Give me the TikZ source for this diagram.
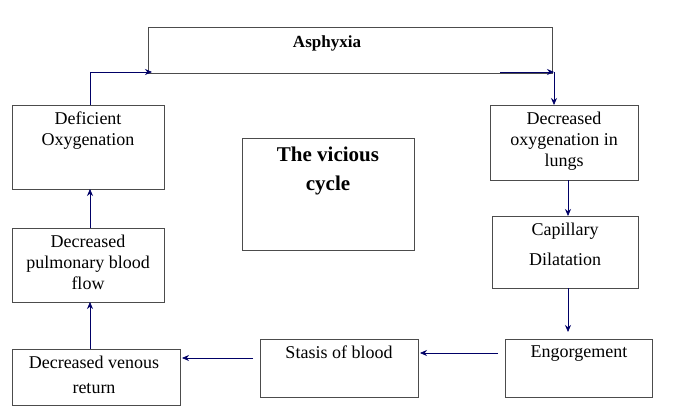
\documentclass[tikz,border=0pt]{standalone}
\usepackage{fontspec}
\setmainfont{Liberation Serif}
\usetikzlibrary{arrows.meta}
\begin{document}
\begin{tikzpicture}[x=1pt,y=-1pt,
  box/.style={draw=black!70,line width=0.6pt},
  txt/.style={font=\fontsize{18}{21}\selectfont,align=center,anchor=north,inner sep=0pt},
  arr/.style={draw=blue!40!black,line width=0.7pt,-{Stealth[length=7pt,width=6pt]}},
  ln/.style={draw=blue!40!black,line width=0.7pt}]
\useasboundingbox (0,0) rectangle (673,420);
\draw[box] (148,27) rectangle (552,73);
\node[txt,font=\bfseries\fontsize{17}{20}\selectfont] (asp) at (327,36) {Asphyxia};
\draw[box] (12,105) rectangle (164,189);
\node[txt] at (88,112) {Deficient\\Oxygenation};
\draw[box] (12,228) rectangle (164,302);
\node[txt] at (88,235) {Decreased\\pulmonary blood\\flow};
\draw[box] (12,349) rectangle (180,405);
\node[txt,font=\fontsize{18}{25}\selectfont] at (94,356) {Decreased venous\\return};
\draw[box] (260,339) rectangle (418,397);
\node[txt] at (339,346) {Stasis of blood};
\draw[box] (505,339) rectangle (652,397);
\node[txt] at (579,346) {Engorgement};
\draw[box] (492,216) rectangle (638,288);
\node[txt,font=\fontsize{18}{30}\selectfont] at (565,223) {Capillary\\Dilatation};
\draw[box] (490,105) rectangle (638,180);
\node[txt] at (564,112) {Decreased\\oxygenation in\\lungs};
\draw[box] (242,138) rectangle (414,250);
\node[txt,font=\bfseries\fontsize{21}{29}\selectfont] at (328,147) {The vicious\\cycle};
\coordinate (a1) at (90,105); \coordinate (a2) at (90,72); \coordinate (a3) at (152,72);
\draw[ln] (a1)--(a2); \draw[arr] (a2)--(a3);
\coordinate (b1) at (500,72); \coordinate (b2) at (554,72); \coordinate (b3) at (554,105);
\draw[arr] (b1)--(b2); \draw[arr] (b2)--(b3);
\coordinate (c1) at (568,180); \coordinate (c2) at (568,216);
\draw[arr] (c1)--(c2);
\coordinate (d1) at (568,288); \coordinate (d2) at (568,332);
\draw[arr] (d1)--(d2);
\coordinate (e1) at (498,353); \coordinate (e2) at (420,353);
\draw[arr] (e1)--(e2);
\coordinate (f1) at (253,358); \coordinate (f2) at (182,358);
\draw[arr] (f1)--(f2);
\coordinate (g1) at (90,349); \coordinate (g2) at (90,302);
\draw[arr] (g1)--(g2);
\coordinate (h1) at (90,228); \coordinate (h2) at (90,189);
\draw[arr] (h1)--(h2);
\end{tikzpicture}
\end{document}
